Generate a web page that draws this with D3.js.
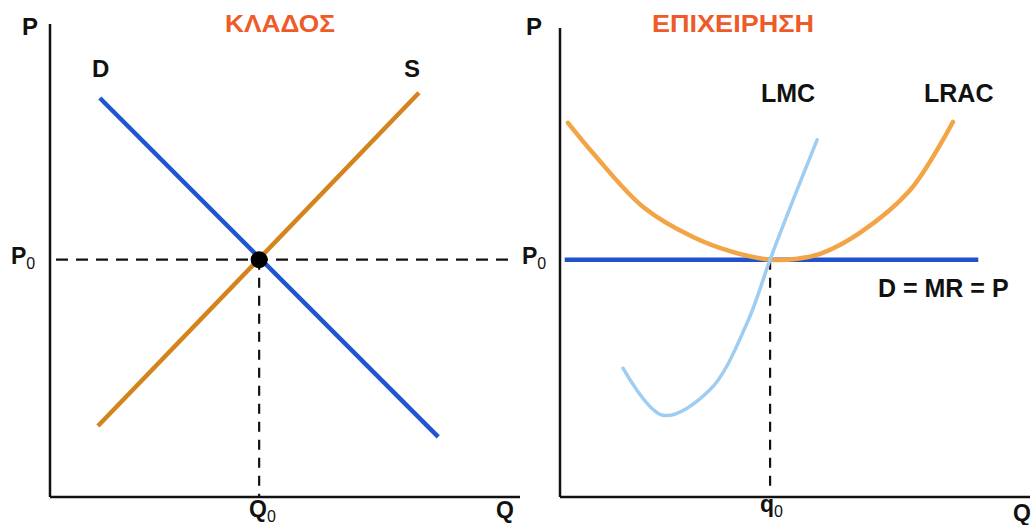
<!DOCTYPE html>
<html>
<head>
<meta charset="utf-8">
<script src="https://cdn.jsdelivr.net/npm/d3@7/dist/d3.min.js"></script>
<style>
  body { margin: 0; background: #fff; }
  text { font-family: "Liberation Sans", Arial, sans-serif; font-weight: bold; }
</style>
</head>
<body>
<svg id="chart" width="1035" height="525"></svg>
<script>
"use strict";

// industry panel (left)
const demand = [[1.06, 8.49], [8.26, 1.28]];
const supply = [[1.02, 1.51], [7.85, 8.60]];
const eqIndustry = [4.45, 5.05];

// firm panel (right)
const lrac = [[0.17, 7.96], [0.70, 7.32], [1.77, 6.17], [2.83, 5.53], [3.65, 5.22], [4.47, 5.05],
  [5.05, 5.07], [5.55, 5.18], [6.38, 5.62], [7.45, 6.53], [8.36, 7.98]];
const lmc = [[1.34, 2.74], [2.19, 1.74], [3.19, 2.28], [3.98, 3.70], [4.47, 5.05],
  [4.96, 6.32], [5.47, 7.60]];
const firmDemand = [[0.1, 5.05], [8.9, 5.05]];
const eqFirm = [4.47, 5.05];

const titles = ["ΚΛΑΔΟΣ", "ΕΠΙΧΕΙΡΗΣΗ"];

const svg = d3.select('#chart');

// shared value domain for both panels
function makePanel(left) {
  let x = d3.scaleLinear().domain([0, 10]).range([left, left + 470]);
  let y = d3.scaleLinear().domain([0, 10]).range([497, 27]);
  return {x, y};
}

function axes(p, top) {
  let g = svg.append('g');
  g.append('line').attr('x1', p.x(0)).attr('x2', p.x(0)).attr('y1', top).attr('y2', p.y(0))
    .attr('stroke', '#111').attr('stroke-width', 2.5);
  g.append('line').attr('x1', p.x(0)).attr('x2', p.x(10)).attr('y1', p.y(0)).attr('y2', p.y(0))
    .attr('stroke', '#111').attr('stroke-width', 2.5);
}

function label(x, y, txt, sub, size) {
  size = size || 24;
  let t = svg.append('text').attr('x', x).attr('y', y).attr('font-size', size)
    .attr('fill', '#111').text(txt);
  if (sub) t.append('tspan').attr('font-size', 16).attr('dy', 5).attr('font-weight', 'normal').text(sub);
  return t;
}

function dashed(x1, y1, x2, y2, dash) {
  svg.append('line').attr('x1', x1).attr('y1', y1).attr('x2', x2).attr('y2', y2)
    .attr('stroke', '#111').attr('stroke-width', 2.2).attr('stroke-dasharray', dash);
}

function title(cx, txt, len) {
  svg.append('text').attr('x', cx).attr('y', 32).attr('text-anchor', 'middle').attr('font-size', 24)
    .attr('textLength', len).attr('lengthAdjust', 'spacingAndGlyphs')
    .attr('fill', '#ee5a28').text(txt);
}

// ---- left: industry
const L = makePanel(50);
const lineL = d3.line().x(d => L.x(d[0])).y(d => L.y(d[1]));
axes(L, 24);

dashed(L.x(0) + 6, L.y(eqIndustry[1]), 512, L.y(eqIndustry[1]), '12,8');
dashed(L.x(eqIndustry[0]), L.y(eqIndustry[1]), L.x(eqIndustry[0]), L.y(0), '10,8');

svg.append('path').attr('d', lineL(demand)).attr('fill', 'none')
  .attr('stroke', '#1f55cf').attr('stroke-width', 4.5);
svg.append('path').attr('d', lineL(supply)).attr('fill', 'none')
  .attr('stroke', '#d4841c').attr('stroke-width', 4.5);
svg.append('circle').attr('cx', L.x(eqIndustry[0])).attr('cy', L.y(eqIndustry[1])).attr('r', 8.5).attr('fill', '#000');

label(22, 35, 'P');
title(280, titles[0], 110);
label(92, 77, 'D');
label(404, 77, 'S');
label(11, 264, 'P', '0', 23);
label(249, 517, 'Q', '0', 23);
label(496, 518, 'Q', null, 23);

// ---- right: firm
const R = makePanel(560);
const lineR = d3.line().x(d => R.x(d[0])).y(d => R.y(d[1]));
const curveR = d3.line().x(d => R.x(d[0])).y(d => R.y(d[1])).curve(d3.curveCatmullRom.alpha(0.5));
axes(R, 28);

dashed(R.x(eqFirm[0]), R.y(eqFirm[1]), R.x(eqFirm[0]), R.y(0) - 4, '10,8');

svg.append('path').attr('d', lineR(firmDemand)).attr('fill', 'none')
  .attr('stroke', '#1f52cc').attr('stroke-width', 4.5);
svg.append('path').attr('d', curveR(lrac)).attr('fill', 'none')
  .attr('stroke', '#f2a446').attr('stroke-width', 4.5).attr('stroke-linecap', 'round');
svg.append('path').attr('d', curveR(lmc)).attr('fill', 'none')
  .attr('stroke', '#9fcdf2').attr('stroke-width', 3.5).attr('stroke-linecap', 'round');

label(526, 35, 'P');
title(733, titles[1], 162);
label(761, 102, 'LMC', null, 25);
label(924, 102, 'LRAC', null, 25);
label(522, 264, 'P', '0', 23);
label(878, 297, 'D = MR = P', null, 25);
label(760, 512, 'q', '0', 23);
label(1013, 521, 'Q', null, 23);
</script>
</body>
</html>
